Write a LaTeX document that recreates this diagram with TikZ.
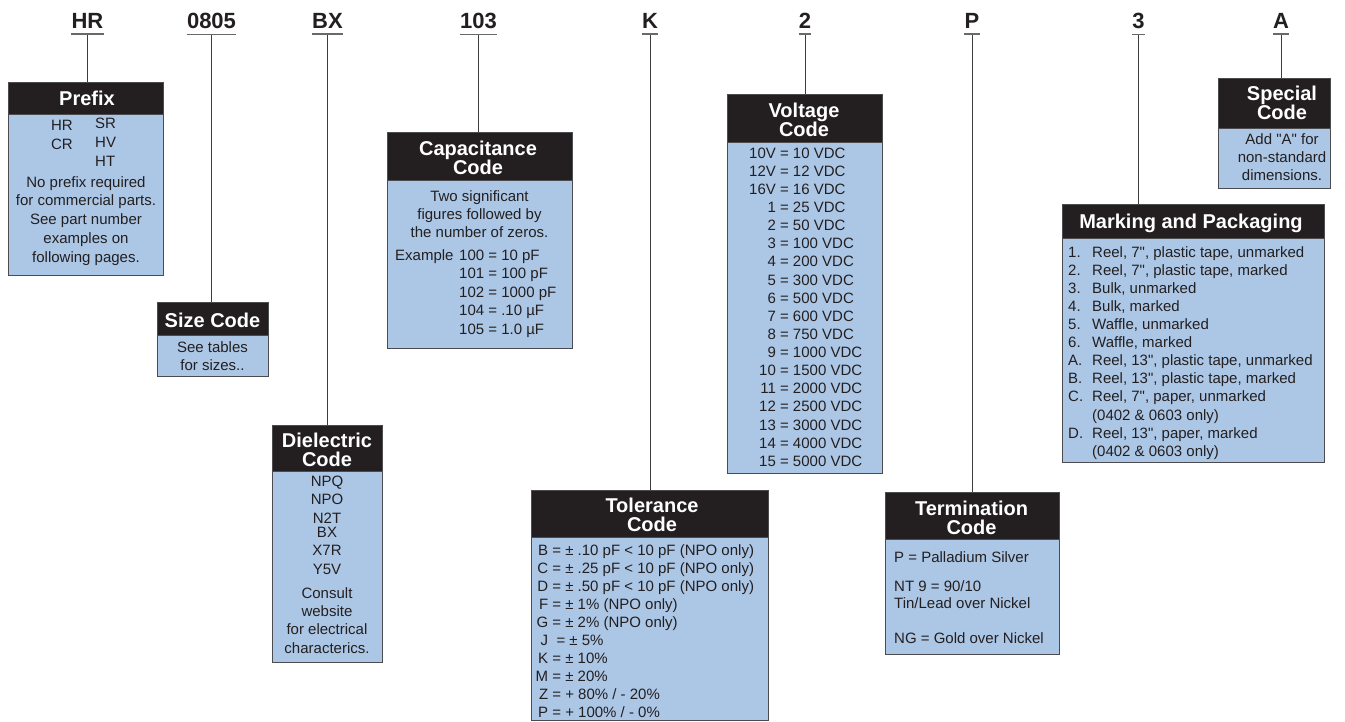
\documentclass[tikz,border=0pt]{standalone}
\usepackage{fontspec}
\setmainfont{Liberation Sans}
\newfontfamily\qfont{Liberation Sans}
\definecolor{ink}{RGB}{35,31,32}
\definecolor{hdrblack}{RGB}{35,31,32}
\definecolor{bodyblue}{RGB}{172,199,230}
\definecolor{edge}{RGB}{75,75,80}
\definecolor{linegray}{RGB}{60,60,60}
\definecolor{ulgray}{RGB}{105,105,105}
\newcommand\tstrut{\rule{0pt}{12pt}}
\newcommand\hstrut{\rule{0pt}{16pt}}
\newcommand\vcol[1]{\makebox[26.7pt][r]{#1}}
\newcommand\tcol[1]{\makebox[11pt][r]{#1}}
\newcommand\mcol[1]{\makebox[24pt][l]{#1}}
\newcommand\sq{{\qfont"}}
\tikzset{
  lab/.style={font=\bfseries\fontsize{22}{24}\selectfont, text=ink, inner sep=0pt, anchor=base},
  hdr/.style={fill=hdrblack, draw=edge, line width=1pt, anchor=north west, inner sep=0pt, outer sep=0pt},
  bdy/.style={fill=bodyblue, draw=edge, line width=1pt, anchor=north west, inner sep=0pt, outer sep=0pt},
  ttl/.style={font=\bfseries\fontsize{20}{19}\selectfont, text=white, inner sep=0pt, align=center, anchor=north},
  txt/.style={font=\fontsize{15}{18.1}\selectfont, text=ink, inner sep=0pt, anchor=north, align=center},
  txtl/.style={txt, anchor=north west, align=left},
  conn/.style={draw=linegray, line width=0.9pt},
  uline/.style={draw=ulgray, line width=1.8pt},
}
\begin{document}
\begin{tikzpicture}[x=1pt,y=-1pt]
\fill[white] (0,0) rectangle (1345,721);
\useasboundingbox (0,0) rectangle (1345,721);

% ---------- boxes ----------
% Prefix
\node[bdy, minimum width=155pt, minimum height=161pt] (pfxB) at (8,114) {};
\node[hdr, minimum width=155pt, minimum height=32pt] (pfxH) at (8,82) {};
% Size code
\node[bdy, minimum width=111pt, minimum height=41pt] (sizB) at (157,335) {};
\node[hdr, minimum width=111pt, minimum height=33pt] (sizH) at (157,302) {};
% Dielectric
\node[bdy, minimum width=110pt, minimum height=191pt] (dieB) at (272,471) {};
\node[hdr, minimum width=110pt, minimum height=46pt] (dieH) at (272,425) {};
% Capacitance
\node[bdy, minimum width=185pt, minimum height=168pt] (capB) at (387,180) {};
\node[hdr, minimum width=185pt, minimum height=48pt] (capH) at (387,132) {};
% Tolerance
\node[bdy, minimum width=237pt, minimum height=183pt] (tolB) at (531,537) {};
\node[hdr, minimum width=237pt, minimum height=47pt] (tolH) at (531,490) {};
% Voltage
\node[bdy, minimum width=155pt, minimum height=331pt] (volB) at (727,142) {};
\node[hdr, minimum width=155pt, minimum height=48pt] (volH) at (727,94) {};
% Termination
\node[bdy, minimum width=174pt, minimum height=115pt] (terB) at (885,539) {};
\node[hdr, minimum width=174pt, minimum height=47pt] (terH) at (885,492) {};
% Marking
\node[bdy, minimum width=262pt, minimum height=224pt] (mrkB) at (1062,238) {};
\node[hdr, minimum width=262pt, minimum height=34pt] (mrkH) at (1062,204) {};
% Special
\node[bdy, minimum width=112pt, minimum height=60pt] (spcB) at (1218,128) {};
\node[hdr, minimum width=112pt, minimum height=50pt] (spcH) at (1218,78) {};

% ---------- top labels ----------
\node[lab] (lHR) at (87.5,28) {HR};
\node[lab] (l0805) at (211.5,28) {0805};
\node[lab] (lBX) at (327.5,28) {BX};
\node[lab] (l103) at (478.5,28) {103};
\node[lab] (lK) at (650,28) {K};
\node[lab] (l2) at (805,28) {2};
\node[lab] (lP) at (972,28) {P};
\node[lab] (l3) at (1138.5,28) {3};
\node[lab] (lA) at (1281,28) {A};

\foreach \l/\b in {lHR/pfxH, l0805/sizH, lBX/dieH, l103/capH, lK/tolH, l2/volH, lP/terH, l3/mrkH, lA/spcH}{
  \draw[conn] ([yshift=-6pt]\l.south) -- (\l.south |- \b.north);
  \draw[uline] ([yshift=-6pt]\l.south west) -- ([yshift=-6pt]\l.south east);
}

% ---------- titles ----------
\node[ttl] (tPfx) at (87,89) {\hstrut Prefix};
\node[ttl] (tSiz) at (212.5,311) {\hstrut Size Code};
\node[ttl] (tDie) at (327,431) {\hstrut Dielectric\\Code};
\node[ttl] (tCap) at (478,139) {\hstrut Capacitance\\Code};
\node[ttl] (tTol) at (652,496) {\hstrut Tolerance\\Code};
\node[ttl] (tVol) at (804,101) {\hstrut Voltage\\Code};
\node[ttl] (tTer) at (971.5,499) {\hstrut Termination\\Code};
\node[ttl] (tMrk) at (1191,212) {\hstrut Marking and Packaging};
\node[ttl] (tSpc) at (1282,84) {\hstrut Special\\Code};

% ---------- Prefix body ----------
\node[txt, font=\fontsize{15}{19}\selectfont] (pfx1) at (62,118) {\tstrut HR\\CR};
\node[txtl, font=\fontsize{15}{19}\selectfont] (pfx2) at (95,116) {\tstrut SR\\HV\\HT};
\node[txt, font=\fontsize{15}{18.75}\selectfont] (pfx3) at (86,175)
  {\tstrut No prefix required\\for commercial parts.\\See part number\\examples on\\following pages.};

% ---------- Size body ----------
\node[txt, font=\fontsize{15}{18}\selectfont] (siz1) at (212.5,340) {\tstrut See tables\\for sizes..};

% ---------- Dielectric body ----------
\node[txt, font=\fontsize{15}{18.5}\selectfont] (die1) at (327,474) {\tstrut NPQ\\NPO\\N2T};
\node[txt, font=\fontsize{15}{18.5}\selectfont] (die2) at (327,525) {\tstrut BX\\X7R\\Y5V};
\node[txt, font=\fontsize{15}{18.3}\selectfont] (die3) at (327,586)
  {\tstrut Consult\\website\\for electrical\\characterics.};

% ---------- Capacitance body ----------
\node[txt, font=\fontsize{15}{18}\selectfont] (cap1) at (479.5,189)
  {\tstrut Two significant\\figures followed by\\the number of zeros.};
\node[txtl] (cap2) at (395,248) {\tstrut Example};
\node[txtl, font=\fontsize{15}{18.5}\selectfont] (cap3) at (459,248)
  {\tstrut 100 = 10 pF\\101 = 100 pF\\102 = 1000 pF\\104 = .10 µF\\105 = 1.0 µF};

% ---------- Tolerance body ----------
\node[txtl, font=\fontsize{15}{18}\selectfont] (tol1) at (537,543)
  {\tstrut\tcol{B} = ± .10 pF < 10 pF (NPO only)\\
   \tcol{C} = ± .25 pF < 10 pF (NPO only)\\
   \tcol{D} = ± .50 pF < 10 pF (NPO only)\\
   \tcol{F} = ± 1\% (NPO only)\\
   \tcol{G} = ± 2\% (NPO only)\\
   \tcol{J} \ = ± 5\%\\
   \tcol{K} = ± 10\%\\
   \tcol{M} = ± 20\%\\
   \tcol{Z} = + 80\% / - 20\%\\
   \tcol{P} = + 100\% / - 0\%};

% ---------- Voltage body ----------
\node[txtl, font=\fontsize{15}{18.12}\selectfont] (vol1) at (749,146)
  {\tstrut\vcol{10V} = 10 VDC\\
   \vcol{12V} = 12 VDC\\
   \vcol{16V} = 16 VDC\\
   \vcol{1} = 25 VDC\\
   \vcol{2} = 50 VDC\\
   \vcol{3} = 100 VDC\\
   \vcol{4} = 200 VDC\\
   \vcol{5} = 300 VDC\\
   \vcol{6} = 500 VDC\\
   \vcol{7} = 600 VDC\\
   \vcol{8} = 750 VDC\\
   \vcol{9} = 1000 VDC\\
   \vcol{10} = 1500 VDC\\
   \vcol{11} = 2000 VDC\\
   \vcol{12} = 2500 VDC\\
   \vcol{13} = 3000 VDC\\
   \vcol{14} = 4000 VDC\\
   \vcol{15} = 5000 VDC};

% ---------- Termination body ----------
\node[txtl] (ter1) at (894,550) {\tstrut P = Palladium Silver};
\node[txtl, font=\fontsize{15}{17}\selectfont] (ter2) at (894,579) {\tstrut NT 9 = 90/10\\Tin/Lead over Nickel};
\node[txtl] (ter3) at (894,631) {\tstrut NG = Gold over Nickel};

% ---------- Marking body ----------
\node[txtl, font=\fontsize{15}{18.09}\selectfont] (mrk1) at (1068,245)
  {\tstrut\mcol{1.}Reel, 7\sq, plastic tape, unmarked\\
   \mcol{2.}Reel, 7\sq, plastic tape, marked\\
   \mcol{3.}Bulk, unmarked\\
   \mcol{4.}Bulk, marked\\
   \mcol{5.}Waffle, unmarked\\
   \mcol{6.}Waffle, marked\\
   \mcol{A.}Reel, 13\sq, plastic tape, unmarked\\
   \mcol{B.}Reel, 13\sq, plastic tape, marked\\
   \mcol{C.}Reel, 7\sq, paper, unmarked\\
   \mcol{}(0402 \& 0603 only)\\
   \mcol{D.}Reel, 13\sq, paper, marked\\
   \mcol{}(0402 \& 0603 only)};

% ---------- Special body ----------
\node[txt, font=\fontsize{15}{18}\selectfont] (spc1) at (1282,132)
  {\tstrut Add \sq A\sq\ for\\non-standard\\dimensions.};
\end{tikzpicture}
\end{document}
